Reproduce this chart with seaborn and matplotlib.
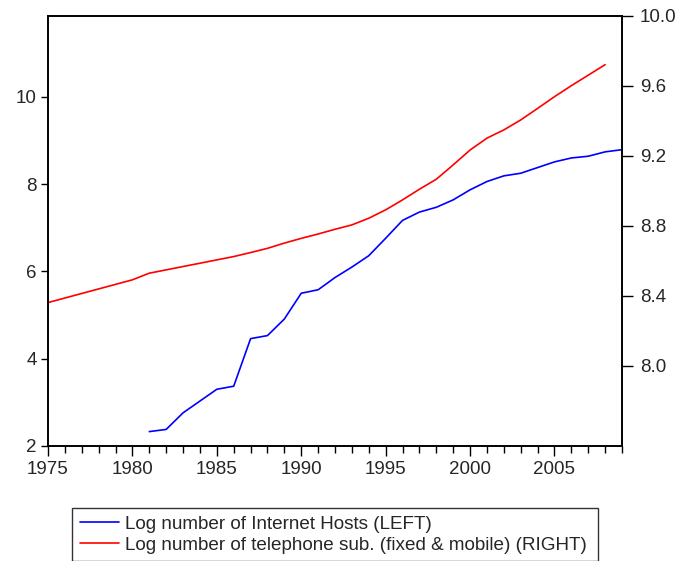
import matplotlib
matplotlib.use("Agg")
import matplotlib.pyplot as plt
import seaborn as sns
import pandas as pd
from matplotlib.ticker import MultipleLocator

# log number of internet hosts (left axis), 1981-2009
host_years = list(range(1981, 2010))
hosts = [2.33, 2.38, 2.76, 3.03, 3.30, 3.37, 4.46, 4.53, 4.91, 5.50,
         5.58, 5.86, 6.10, 6.36, 6.76, 7.17, 7.36, 7.47, 7.64, 7.87,
         8.06, 8.19, 8.25, 8.38, 8.51, 8.60, 8.64, 8.74, 8.79]

# log number of telephone subscribers (right axis), 1975-2008
tel_years = list(range(1975, 2009))
tel = [8.360, 8.386, 8.412, 8.438, 8.464, 8.490, 8.528, 8.547, 8.566, 8.585,
       8.604, 8.623, 8.646, 8.670, 8.700, 8.727, 8.752, 8.779, 8.804, 8.842,
       8.890, 8.947, 9.008, 9.065, 9.147, 9.232, 9.300, 9.347, 9.404, 9.470,
       9.537, 9.600, 9.660, 9.720]

df_h = pd.DataFrame({"year": host_years, "val": hosts})
df_t = pd.DataFrame({"year": tel_years, "val": tel})

sns.set_style("white")
plt.rcParams['font.family'] = ['Liberation Sans', 'DejaVu Sans']

fig = plt.figure(figsize=(6.78, 5.61), dpi=100)
ax = fig.add_axes([48/678, 1 - 446/561, (622-48)/678, (446-15.7)/561])
ax2 = ax.twinx()

sns.lineplot(data=df_h, x="year", y="val", ax=ax, color="#0000ff", lw=1.2,
             label="Log number of Internet Hosts (LEFT)", legend=False)
sns.lineplot(data=df_t, x="year", y="val", ax=ax2, color="#ff0000", lw=1.2,
             label="Log number of telephone sub. (fixed & mobile) (RIGHT)", legend=False)

ax.set_xlim(1975, 2009)
ax.set_ylim(2, 11.86)
ax2.set_ylim(7.54, 10.0)
ax.set_xticks(range(1975, 2010, 5))
ax.xaxis.set_minor_locator(MultipleLocator(1))
ax.set_yticks([2, 4, 6, 8, 10])
ax2.set_yticks([8.0, 8.4, 8.8, 9.2, 9.6, 10.0])
ax2.set_yticklabels(["8.0", "8.4", "8.8", "9.2", "9.6", "10.0"])
ax.set_xlabel("")
ax.set_ylabel("")
ax2.set_ylabel("")

ax.tick_params(axis="x", which="major", direction="out", length=7, width=1,
               labelsize=13.5, bottom=True, top=False, color="black", pad=4)
ax.tick_params(axis="x", which="minor", direction="out", length=5, width=1,
               bottom=True, top=False, color="black")
ax.tick_params(axis="y", direction="out", length=5, width=1, left=True,
               labelsize=13.5, color="black", pad=3)
ax2.tick_params(axis="y", direction="out", length=8, width=1, right=True,
                labelsize=13.5, color="black", pad=5)

for a in (ax, ax2):
    for s in a.spines.values():
        s.set_visible(True)
        s.set_color("black")
        s.set_linewidth(1.2)

lines = ax.get_lines() + ax2.get_lines()
leg = fig.legend(lines, [l.get_label() for l in lines],
                 loc="upper left",
                 bbox_to_anchor=(72/678, 0, 526/678, 1 - 508/561),
                 mode="expand", fontsize=13.6, frameon=True, fancybox=False,
                 edgecolor="black", borderaxespad=0, handlelength=2.1,
                 handletextpad=0.3, borderpad=0.4, labelspacing=0.2)
leg.get_frame().set_linewidth(1.0)

fig.savefig("out.png", dpi=100)
